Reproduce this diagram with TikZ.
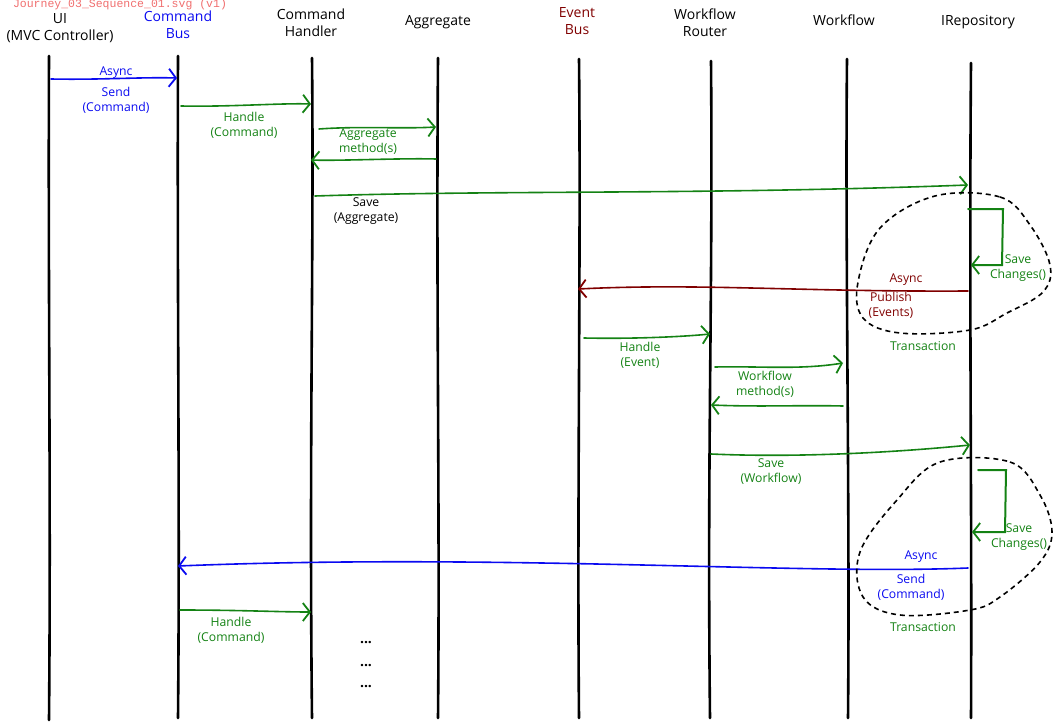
\documentclass[tikz,border=0pt]{standalone}
\usepackage{fontspec}
\setmainfont{Open Sans}
\newfontfamily\monofont{Liberation Mono}
\usetikzlibrary{arrows.meta}
\definecolor{cblue}{RGB}{10,10,240}
\definecolor{cgreen}{RGB}{20,130,20}
\definecolor{cred}{RGB}{128,0,0}
\definecolor{ctitle}{RGB}{240,110,110}
\begin{document}
\begin{tikzpicture}[x=1pt,y=-1pt,
 life/.style={line width=2.6pt, line cap=round},
 msg/.style={line width=1.6pt, line cap=round, -{Straight Barb[length=7pt,width=18pt,line width=1.8pt]}},
 hdr/.style={font=\fontsize{14}{17}\selectfont, align=center, inner sep=0},
 lbl/.style={font=\fontsize{12.2}{15}\selectfont, align=center, inner sep=0},
 tx/.style={line width=1.6pt, dash pattern=on 5pt off 4pt}]
\useasboundingbox (0,0) rectangle (1054,722);
% title
\node[font=\monofont\fontsize{11.5}{12}\selectfont, text=ctitle, inner sep=0] (title) at (120,5) {Journey\_03\_Sequence\_01.svg (v1)};
% headers
\node[hdr] (hui) at (60,28) {UI\\(MVC Controller)};
\node[hdr, text=cblue] (hcb) at (178,25) {Command\\Bus};
\node[hdr] (hch) at (311,23) {Command\\Handler};
\node[hdr] (hag) at (438,22) {Aggregate};
\node[hdr, text=cred] (heb) at (577,21) {Event\\Bus};
\node[hdr] (hwr) at (705,23) {Workflow\\Router};
\node[hdr] (hwf) at (844,20) {Workflow};
\node[hdr] (hrp) at (978,22) {IRepository};
% lifelines
\coordinate (ui0) at (49,56);  \coordinate (uiE) at (49,720);
\coordinate (cb0) at (178,56); \coordinate (cbE) at (178,718);
\coordinate (ch0) at (312,58); \coordinate (chE) at (312,718);
\coordinate (ag0) at (438,58); \coordinate (agE) at (438,718);
\coordinate (eb0) at (579,59); \coordinate (ebE) at (579,718);
\coordinate (wr0) at (711,61); \coordinate (wrE) at (710,718);
\coordinate (wf0) at (847,59); \coordinate (wfE) at (848,718);
\coordinate (rp0) at (971,63); \coordinate (rpE) at (971,718);
\draw[life] (ui0) .. controls (48,300) and (51,500) .. (uiE);
\draw[life] (cb0) .. controls (177,300) and (180,500) .. (cbE);
\draw[life] (ch0) .. controls (314,250) and (309,450) .. (chE);
\draw[life] (ag0) .. controls (436,300) and (440,500) .. (agE);
\draw[life] (eb0) .. controls (581,250) and (577,500) .. (ebE);
\draw[life] (wr0) .. controls (713,300) and (707,450) .. (wrE);
\draw[life] (wf0) .. controls (845,250) and (850,500) .. (wfE);
\draw[life] (rp0) .. controls (969,300) and (972,500) .. (rpE);
% message points
\coordinate (m1a) at (51,79);   \coordinate (m1b) at (177,78);
\coordinate (m2a) at (181,106); \coordinate (m2b) at (311,104);
\coordinate (m3a) at (319,129); \coordinate (m3b) at (436,127);
\coordinate (m4a) at (436,159); \coordinate (m4b) at (311,160);
\coordinate (m5a) at (315,196); \coordinate (m5b) at (968,185);
\coordinate (m6a) at (968,291); \coordinate (m6b) at (578,289);
\coordinate (m7a) at (584,338); \coordinate (m7b) at (710,334);
\coordinate (m8a) at (715,367); \coordinate (m8b) at (843,363);
\coordinate (m9a) at (843,406); \coordinate (m9b) at (711,405);
\coordinate (m10a) at (711,454); \coordinate (m10b) at (970,445);
\coordinate (m11a) at (968,568); \coordinate (m11b) at (178,566);
\coordinate (m12a) at (180,610); \coordinate (m12b) at (311,612);
% messages
\draw[msg, cblue] (m1a) .. controls (100,80) and (140,77) .. (m1b);
\draw[msg, cgreen] (m2a) .. controls (230,107) and (280,103) .. (m2b);
\draw[msg, cgreen] (m3a) .. controls (360,126) and (400,129) .. (m3b);
\draw[msg, cgreen] (m4a) .. controls (400,158) and (340,161) .. (m4b);
\draw[msg, cgreen] (m5a) .. controls (500,190) and (700,195) .. (m5b);
\draw[msg, cred] (m6a) .. controls (800,292) and (700,283) .. (m6b);
\draw[msg, cgreen] (m7a) .. controls (630,339) and (680,337) .. (m7b);
\draw[msg, cgreen] (m8a) .. controls (760,366) and (800,370) .. (m8b);
\draw[msg, cgreen] (m9a) .. controls (800,405) and (760,407) .. (m9b);
\draw[msg, cgreen] (m10a) .. controls (800,458) and (900,452) .. (m10b);
\draw[msg, cblue] (m11a) .. controls (800,575) and (500,553) .. (m11b);
\draw[msg, cgreen] (m12a) .. controls (240,610) and (280,612) .. (m12b);
% self loops
\coordinate (s1a) at (968,209); \coordinate (s1b) at (971,265);
\coordinate (s2a) at (978,470); \coordinate (s2b) at (972,532);
\draw[msg, cgreen, line width=2pt] (s1a) -- (1003,209) -- (1002,265) -- (s1b);
\draw[msg, cgreen, line width=2pt] (s2a) -- (1006,470) -- (1005,532) -- (s2b);
% transactions
\draw[tx] plot[smooth cycle, tension=0.6] coordinates {(935,196) (1000,197) (1030,225) (1050,265) (1043,292) (1007,313) (970,330) (900,333) (863,318) (858,282) (880,228)};
\draw[tx] plot[smooth cycle, tension=0.6] coordinates {(940,462) (1010,462) (1040,495) (1052,532) (1040,562) (1000,597) (970,610) (900,615) (863,597) (860,552) (897,500)};
% labels
\node[lbl, text=cblue] (l1a) at (116,73) {Async};
\node[lbl, text=cblue] (l1b) at (116,100) {Send\\(Command)};
\node[lbl, text=cgreen] (l2) at (244,125) {Handle\\(Command)};
\node[lbl, text=cgreen] (l3) at (368,142) {Aggregate\\method(s)};
\node[lbl] (l5) at (366,211) {Save\\(Aggregate)};
\node[lbl, text=cgreen] (ls1) at (1018,268) {Save\\Changes()};
\node[lbl, text=cred] (l6a) at (906,280) {Async};
\node[lbl, text=cred] (l6b) at (891,305) {Publish\\(Events)};
\node[lbl, text=cgreen] (lt1) at (923,346) {Transaction};
\node[lbl, text=cgreen] (l7) at (640,355) {Handle\\(Event)};
\node[lbl, text=cgreen] (l8) at (765,384) {Workflow\\method(s)};
\node[lbl, text=cgreen] (l10) at (771,472) {Save\\(Workflow)};
\node[lbl, text=cgreen] (ls2) at (1019,537) {Save\\Changes()};
\node[lbl, text=cblue] (l11a) at (921,557) {Async};
\node[lbl, text=cblue] (l11b) at (911,587) {Send\\(Command)};
\node[lbl, text=cgreen] (lt2) at (923,627) {Transaction};
\node[lbl, text=cgreen] (l12) at (231,630) {Handle\\(Command)};
\node[lbl, font=\fontsize{14}{15}\selectfont\bfseries] (d1) at (366,643) {...};
\node[lbl, font=\fontsize{14}{15}\selectfont\bfseries] (d2) at (366,666) {...};
\node[lbl, font=\fontsize{14}{15}\selectfont\bfseries] (d3) at (366,687) {...};
\end{tikzpicture}
\end{document}
